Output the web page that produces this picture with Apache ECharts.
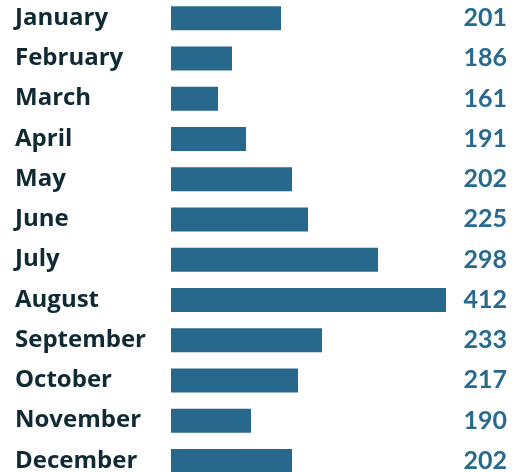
<!DOCTYPE html>
<html>
<head>
<meta charset="utf-8">
<script src="https://cdn.jsdelivr.net/npm/echarts@6/dist/echarts.min.js"></script>
<style>html,body{margin:0;padding:0;background:#fff}#c{width:519px;height:472px}</style>
</head>
<body>
<div id="c"></div>
<script>
const months = ["January","February","March","April","May","June","July","August","September","October","November","December"];
const labelValues = [201,186,161,191,202,225,298,412,233,217,190,202];
const barValues = [110,61,47,75,121,137,207,275,151,127,80,121];

const chart = echarts.init(document.getElementById('c'));
chart.setOption({
  animation:false,
  grid:{left:171,width:336,top:-2,height:483,outerBoundsMode:'none',containLabel:false},
  xAxis:{type:'value',min:0,max:336,show:false},
  yAxis:[
    {type:'category',data:months,inverse:true,axisLine:{show:false},axisTick:{show:false},
     axisLabel:{align:'left',margin:156,color:'#0f2a33',fontFamily:'Open Sans',fontWeight:'bold',fontSize:24}},
    {type:'category',data:months,inverse:true,position:'right',axisLine:{show:false},axisTick:{show:false},
     axisLabel:{align:'right',margin:0,color:'#276a8e',fontFamily:'Lato',fontWeight:'bold',fontSize:25,
       formatter:(v,i)=>String(labelValues[i])}}
  ],
  series:[{type:'bar',data:barValues,barWidth:24,itemStyle:{color:'#27688c'}}]
});
</script>
</body>
</html>
